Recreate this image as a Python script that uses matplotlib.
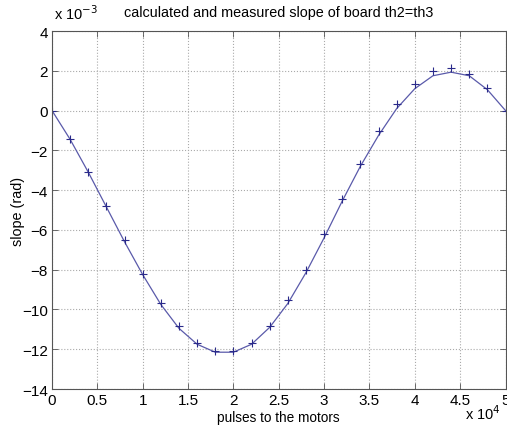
import matplotlib.pyplot as plt

# pulses (x 1e4) and slope (x 1e-3 rad)
pulses = [0, 0.2, 0.4, 0.6, 0.8, 1.0, 1.2, 1.4, 1.6, 1.8, 2.0, 2.2, 2.4,
          2.6, 2.8, 3.0, 3.2, 3.4, 3.6, 3.8, 4.0, 4.2, 4.4, 4.6, 4.8, 5.0]
measured = [0, -1.42, -3.08, -4.78, -6.53, -8.2, -9.67, -10.85, -11.68, -12.1,
            -12.1, -11.68, -10.82, -9.55, -8.03, -6.23, -4.45, -2.67, -1.03,
            0.33, 1.33, 1.97, 2.12, 1.83, 1.12, 0]
calculated = [0, -1.45, -3.1, -4.85, -6.6, -8.25, -9.75, -10.95, -11.75, -12.15,
              -12.15, -11.75, -10.9, -9.7, -8.15, -6.4, -4.55, -2.8, -1.25,
              0.1, 1.1, 1.75, 1.93, 1.75, 1.05, 0]

plt.rcParams['font.family'] = ['Liberation Sans', 'DejaVu Sans']

fig = plt.figure(figsize=(5.07, 4.27), dpi=100)
ax = fig.add_axes([52 / 507, 37 / 427, 453.5 / 507, 358 / 427])

ax.plot(pulses, calculated, color="#5a5aaa", linewidth=0.9)
ax.plot(pulses, measured, linestyle="none", marker="+", color="#2a2a8a",
        markersize=6, markeredgewidth=0.8)

ax.set_xlim(0, 5)
ax.set_ylim(-14, 4)
ax.set_xticks([0, 0.5, 1, 1.5, 2, 2.5, 3, 3.5, 4, 4.5, 5])
ax.set_xticklabels(["0", "0.5", "1", "1.5", "2", "2.5", "3", "3.5", "4", "4.5", "5"])
ax.set_yticks(range(-14, 5, 2))
ax.set_yticklabels(["\u221214", "\u221212", "\u221210", "\u22128", "\u22126",
                    "\u22124", "\u22122", "0", "2", "4"])
ax.tick_params(direction="in", top=True, right=True, labelsize=11,
               length=4, width=0.6, color="#555555", pad=3)
ax.grid(True, linestyle=":", color="#aaaaaa", linewidth=0.8)
for s in ax.spines.values():
    s.set_color("#555555")
    s.set_linewidth(0.8)

ax.set_title("calculated and measured slope of board th2=th3", fontsize=10.4, pad=11)
ax.set_xlabel("pulses to the motors", fontsize=9.8)
ax.set_ylabel("slope (rad)", fontsize=10.4)
ax.xaxis.set_label_coords(0.5, -0.058)
ax.yaxis.set_label_coords(-0.06, 0.5)

fig.text(54 / 507, 1 - 14 / 427, "x 10$^{-3}$", fontsize=10.5, va="center", ha="left")
fig.text(501 / 507, 1 - 414 / 427, "x 10$^{4}$", fontsize=10.5, va="center", ha="right")

fig.savefig("out.png", dpi=100)
